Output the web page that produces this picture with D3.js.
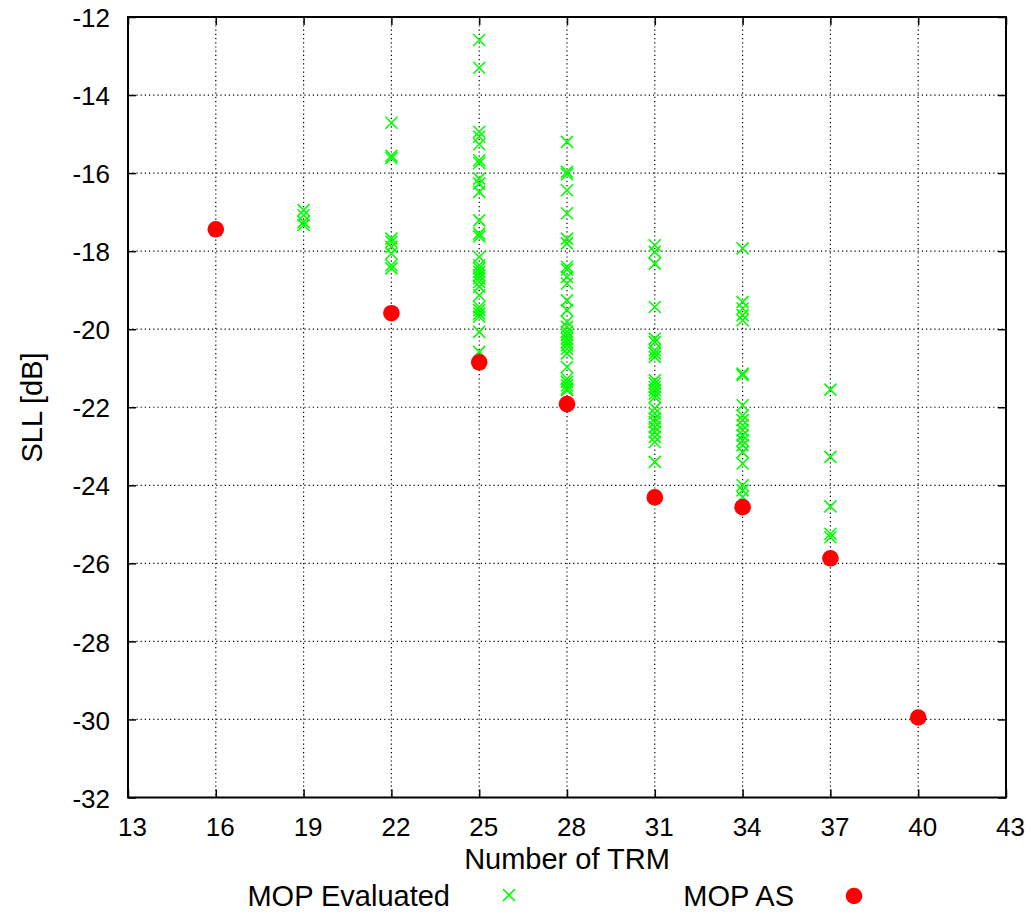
<!DOCTYPE html>
<html>
<head>
<meta charset="utf-8">
<script src="https://cdn.jsdelivr.net/npm/d3@7"></script>
<style>
  body { margin: 0; background: #fff; }
  text { font-family: "Liberation Sans", Arial, sans-serif; }
</style>
</head>
<body>
<svg id="svg1" width="1031" height="915"></svg>
<script>
var width = 1031;
var height = 915;

var marginLeft = 128;
var marginTop = 17;
var plotW = 1006 - marginLeft;
var plotH = 797.5 - marginTop;

// data
var xTicks = [13, 16, 19, 22, 25, 28, 31, 34, 37, 40, 43];
var yTicks = [-12, -14, -16, -18, -20, -22, -24, -26, -28, -30, -32];

var evalTRM = [19, 22, 25, 28, 31, 34, 37];
var evalSLL = [
    [-16.95, -17.08, -17.25, -17.33],
    [-14.71, -15.56, -15.62, -17.68, -17.76, -17.89, -18.06, -18.36, -18.44],
    [-12.59, -13.30, -14.94, -15.07, -15.26, -15.67, -15.74, -16.14, -16.27, -16.48, -17.21,
     -17.55, -17.62, -18.15, -18.36, -18.44, -18.53, -18.62, -18.70, -18.79, -18.91, -19.13,
     -19.43, -19.51, -19.60, -19.68, -20.07, -20.58],
    [-15.20, -15.97, -16.03, -16.44, -17.03, -17.68, -17.80, -18.40, -18.47, -18.66, -18.83,
     -19.26, -19.51, -19.81, -19.94, -20.07, -20.15, -20.24, -20.33, -20.41, -20.50, -20.62,
     -20.97, -21.27, -21.35, -21.44, -21.52, -21.56],
    [-17.85, -18.02, -18.32, -19.43, -20.24, -20.33, -20.54, -20.62, -20.71, -21.31, -21.39,
     -21.48, -21.56, -21.65, -21.74, -22.03, -22.16, -22.29, -22.38, -22.51, -22.63, -22.76,
     -22.89, -23.40],
    [-17.93, -19.30, -19.47, -19.64, -19.77, -21.14, -21.18, -21.95, -22.21, -22.33, -22.46,
     -22.59, -22.72, -22.85, -22.97, -23.15, -23.44, -24.00, -24.13, -24.30],
    [-21.55, -23.27, -24.54, -25.24, -25.33]
];

var asTRM = [16, 22, 25, 28, 31, 34, 37, 40];
var asSLL = [-17.44, -19.59, -20.85, -21.92, -24.31, -24.56, -25.87, -29.95];

var svg1 = d3.select('#svg1');

var x = d3.scaleLinear().domain([13, 43]).range([marginLeft, marginLeft + plotW]);
var y = d3.scaleLinear().domain([-32, -12]).range([marginTop + plotH, marginTop]);

// grid
var grid = svg1.append('g');
grid.selectAll('.gx')
    .data(xTicks.slice(1, -1))
    .enter()
    .append('line')
    .attr('x1', function(d){ return x(d); })
    .attr('x2', function(d){ return x(d); })
    .attr('y1', marginTop)
    .attr('y2', marginTop + plotH)
    .attr('stroke', '#000')
    .attr('stroke-width', 1.2)
    .attr('stroke-dasharray', '1.2,3');
grid.selectAll('.gy')
    .data(yTicks.slice(1, -1))
    .enter()
    .append('line')
    .attr('y1', function(d){ return y(d); })
    .attr('y2', function(d){ return y(d); })
    .attr('x1', marginLeft)
    .attr('x2', marginLeft + plotW)
    .attr('stroke', '#000')
    .attr('stroke-width', 1.2)
    .attr('stroke-dasharray', '1.2,3');

// axes with ticks on all sides
var fs = 26;
var fsTitle = 29;
var plain = function(d){ return String(d); };
var axBottom = svg1.append('g')
    .attr('transform', 'translate(0,' + (marginTop + plotH) + ')')
    .call(d3.axisBottom(x).tickValues(xTicks).tickFormat(plain).tickSizeInner(-8).tickSizeOuter(0).tickPadding(20));
var axLeft = svg1.append('g')
    .attr('transform', 'translate(' + marginLeft + ',0)')
    .call(d3.axisLeft(y).tickValues(yTicks).tickFormat(plain).tickSizeInner(-8).tickSizeOuter(0).tickPadding(18));
var axTop = svg1.append('g')
    .attr('transform', 'translate(0,' + marginTop + ')')
    .call(d3.axisTop(x).tickValues(xTicks).tickSizeInner(-8).tickSizeOuter(0).tickFormat(''));
var axRight = svg1.append('g')
    .attr('transform', 'translate(' + (marginLeft + plotW) + ',0)')
    .call(d3.axisRight(y).tickValues(yTicks).tickSizeInner(-8).tickSizeOuter(0).tickFormat(''));

[axBottom, axLeft, axTop, axRight].forEach(function(g){
    g.select('.domain').remove();
    g.selectAll('line').attr('stroke', '#000').attr('stroke-width', 1.5);
    g.selectAll('text')
        .attr('fill', '#000')
        .style('font-size', fs + 'px')
        .style('font-family', '"Liberation Sans", Arial, sans-serif');
});
axLeft.selectAll('text').attr('dy', '0.37em');
axBottom.selectAll('text').attr('dx', 4);

svg1.append('rect')
    .attr('x', marginLeft)
    .attr('y', marginTop)
    .attr('width', plotW)
    .attr('height', plotH)
    .attr('fill', 'none')
    .attr('stroke', '#000')
    .attr('stroke-width', 2);

// points
var crossPath = 'M-6,-6L6,6M-6,6L6,-6';
var evalPts = [];
evalTRM.forEach(function(t, i){
    evalSLL[i].forEach(function(v){
        evalPts.push({trm: t, sll: v});
    });
});

svg1.append('g').selectAll('path')
    .data(evalPts)
    .enter()
    .append('path')
    .attr('transform', function(d){ return 'translate(' + x(d.trm) + ',' + y(d.sll) + ')'; })
    .attr('d', crossPath)
    .attr('stroke', '#00ff00')
    .attr('stroke-width', 1.6)
    .attr('fill', 'none');

svg1.append('g').selectAll('circle')
    .data(asTRM)
    .enter()
    .append('circle')
    .attr('cx', function(d){ return x(d); })
    .attr('cy', function(d, i){ return y(asSLL[i]); })
    .attr('r', 8.3)
    .attr('fill', '#ff0000');

// axis titles
svg1.append('text')
    .attr('x', 567)
    .attr('y', 869)
    .attr('text-anchor', 'middle')
    .style('font-size', fsTitle + 'px')
    .text('Number of TRM');

svg1.append('text')
    .attr('transform', 'translate(42,' + 407.5 + ') rotate(-90)')
    .attr('text-anchor', 'middle')
    .style('font-size', fsTitle + 'px')
    .text('SLL [dB]');

// legend
svg1.append('text')
    .attr('x', 450)
    .attr('y', 906)
    .attr('text-anchor', 'end')
    .style('font-size', fsTitle + 'px')
    .text('MOP Evaluated');
svg1.append('path')
    .attr('transform', 'translate(509,895)')
    .attr('d', crossPath)
    .attr('stroke', '#00ff00')
    .attr('stroke-width', 1.6);

svg1.append('text')
    .attr('x', 794)
    .attr('y', 906)
    .attr('text-anchor', 'end')
    .style('font-size', fsTitle + 'px')
    .text('MOP AS');
svg1.append('circle')
    .attr('cx', 854)
    .attr('cy', 896)
    .attr('r', 8.3)
    .attr('fill', '#ff0000');
</script>
</body>
</html>
